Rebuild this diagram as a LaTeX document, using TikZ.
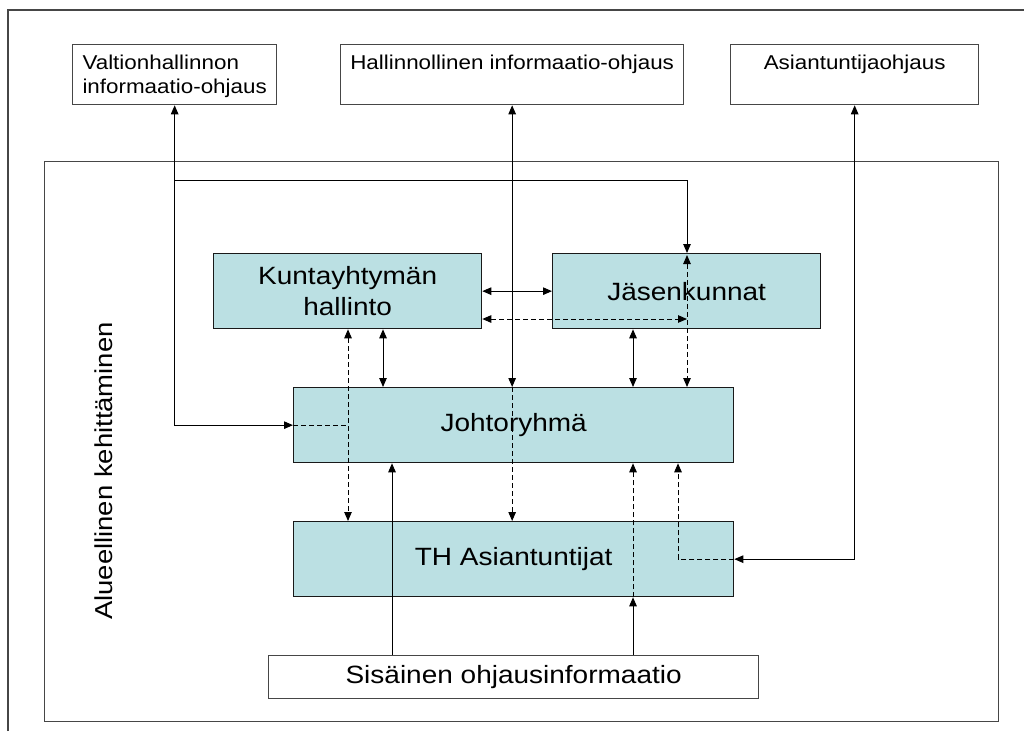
\documentclass[tikz,border=0pt]{standalone}
\usepackage{fontspec}
\setmainfont{Liberation Sans}[FakeStretch=1.12]
\usetikzlibrary{arrows.meta}
\definecolor{unitfill}{RGB}{187,224,227}
\definecolor{rim}{RGB}{70,70,70}

\begin{document}
\begin{tikzpicture}[x=1pt,y=-1pt,
  >={Triangle[length=9pt,width=7.5pt]},
  frame/.style={draw=rim, line width=1.3pt},
  ctlbox/.style={draw=rim, line width=1.3pt, fill=white, inner sep=0pt, anchor=north west},
  ctltext/.style={inner sep=0pt, anchor=north, align=left, font=\fontsize{20}{24}\selectfont},
  unit/.style={draw=black!90, line width=1.3pt, fill=unitfill, inner sep=0pt, anchor=north west,
    align=center, font=\fontsize{25}{30.5}\selectfont},
  flow/.style={line width=1pt, draw=black},
  soft/.style={flow, dash pattern=on 5pt off 3pt}]

\useasboundingbox (0,0) rectangle (1024,731);

% outer page frame and regional area
\draw[frame] (8,731) -- (8,10) -- (1024,10);
\node[frame, inner sep=0pt, anchor=north west, minimum width=954pt, minimum height=560pt] (area) at (44,161) {};
\node[rotate=90, anchor=base, inner sep=0pt, font=\fontsize{24.5}{30}\selectfont] (areaname) at (112,471) {Alueellinen kehittäminen};

% steering sources
\node[ctlbox, minimum width=204pt, minimum height=60pt] (valt) at (72,44) {};
\node[ctltext] (valtT) at ([yshift=-10.5pt]valt.north) {Valtionhallinnon\\informaatio-ohjaus};
\node[ctlbox, minimum width=343pt, minimum height=60pt] (halli) at (340,44) {};
\node[ctltext] (halliT) at ([yshift=-10.5pt]halli.north) {Hallinnollinen informaatio-ohjaus};
\node[ctlbox, minimum width=248pt, minimum height=60pt] (asi) at (730,44) {};
\node[ctltext] (asiT) at ([yshift=-10.5pt]asi.north) {Asiantuntijaohjaus};

% organisation units
\node[unit, minimum width=268pt, minimum height=75pt] (kunta) at (213,253) {Kuntayhtymän\\hallinto};
\node[unit, minimum width=268pt, minimum height=75pt] (jasen) at (552,253) {Jäsenkunnat};
\node[unit, minimum width=440pt, minimum height=75pt] (johto) at (293,387) {Johtoryhmä};
\node[unit, minimum width=440pt, minimum height=75pt] (th) at (293,521) {TH Asiantuntijat};
\node[ctlbox, draw=rim, align=center, minimum width=490pt, minimum height=43pt,
  font=\fontsize{25}{30}\selectfont] (sis) at (268,655) {Sisäinen ohjausinformaatio};

% line positions
\coordinate (split) at (174,180);
\coordinate (xJ) at (687,0);
\coordinate (xK) at (383,0);
\coordinate (xS) at (633,0);
\coordinate (xD) at (348,0);
\coordinate (xL) at (392,0);
\coordinate (xR) at (678,0);
\coordinate (yD) at (0,319);

% state steering
\draw[flow,<->] (valt.south) |- (johto.west);
\draw[flow,->] (split) -| (jasen.north -| xJ);
\draw[soft] (johto.west) -- (johto.west -| xD);

% links between units
\draw[flow,<->] (kunta.east) -- (jasen.west);
\draw[soft,<->] (kunta.east |- yD) -- (xJ |- yD);
\draw[soft,<->] ([yshift=-2pt]jasen.north -| xJ) -- (johto.north -| xJ);
\draw[flow,<->] (kunta.south -| xK) -- (johto.north -| xK);
\draw[flow,<->] (jasen.south -| xS) -- (johto.north -| xS);
\draw[soft,<->] (kunta.south -| xD) -- (th.north -| xD);

% administrative steering
\draw[flow,<->] (halli.south) -- (johto.north -| halli.south);
\draw[soft,->] (johto.north -| halli.south) -- (th.north -| halli.south);

% internal steering information
\draw[flow,->] (sis.north -| xL) -- (johto.south -| xL);
\draw[flow,->] (sis.north -| xS) -- (th.south -| xS);
\draw[soft,->] (th.south -| xS) -- (johto.south -| xS);

% expert steering
\draw[flow,<->] (asi.south) |- (th.east);
\draw[soft,->] (th.east) -| (johto.south -| xR);
\end{tikzpicture}
\end{document}
